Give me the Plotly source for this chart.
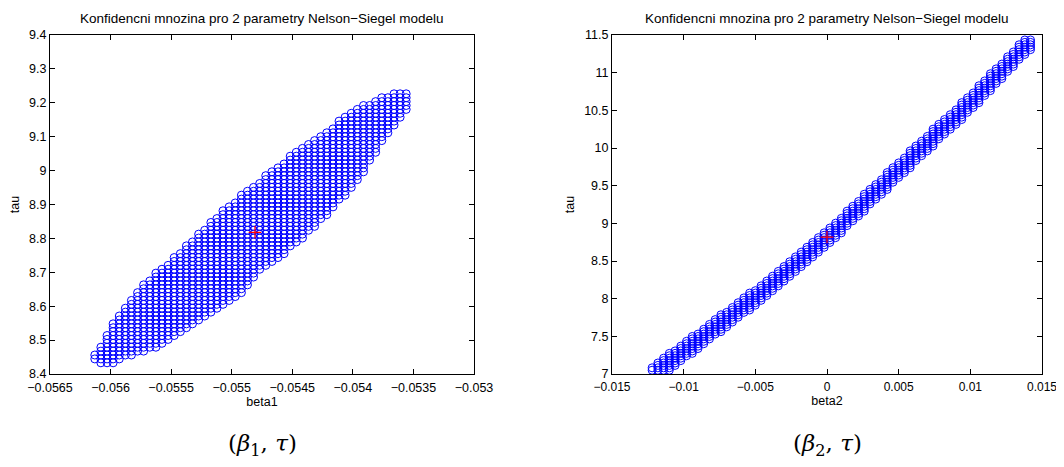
import plotly.graph_objects as go

# ---------------- left panel data (beta1, tau) ----------------
beta1_cols = [-0.056130, -0.056080, -0.056029, -0.055979, -0.055928, -0.055878, -0.055828,
              -0.055777, -0.055727, -0.055676, -0.055626, -0.055576, -0.055525, -0.055475,
              -0.055424, -0.055374, -0.055324, -0.055273, -0.055223, -0.055172, -0.055122,
              -0.055072, -0.055021, -0.054971, -0.054920, -0.054870, -0.054820, -0.054769,
              -0.054719, -0.054668, -0.054618, -0.054568, -0.054517, -0.054467, -0.054416,
              -0.054366, -0.054316, -0.054265, -0.054215, -0.054164, -0.054114, -0.054064,
              -0.054013, -0.053963, -0.053912, -0.053862, -0.053812, -0.053761, -0.053711,
              -0.053660, -0.053610, -0.053560]
tau1_lo = [8.444, 8.436, 8.433, 8.433, 8.442, 8.451, 8.456, 8.460, 8.467, 8.474, 8.482,
           8.493, 8.504, 8.516, 8.527, 8.538, 8.549, 8.560, 8.571, 8.583, 8.595, 8.606,
           8.617, 8.627, 8.644, 8.664, 8.684, 8.702, 8.715, 8.728, 8.742, 8.755, 8.771,
           8.787, 8.803, 8.819, 8.836, 8.854, 8.872, 8.890, 8.910, 8.931, 8.952, 8.976,
           9.000, 9.024, 9.053, 9.085, 9.112, 9.133, 9.154, 9.175]
tau1_hi = [8.453, 8.478, 8.519, 8.547, 8.574, 8.598, 8.622, 8.644, 8.662, 8.679, 8.694,
           8.709, 8.725, 8.742, 8.759, 8.777, 8.794, 8.812, 8.830, 8.848, 8.864, 8.879,
           8.894, 8.909, 8.924, 8.939, 8.954, 8.969, 8.985, 8.999, 9.012, 9.026, 9.039,
           9.051, 9.064, 9.076, 9.088, 9.100, 9.113, 9.128, 9.144, 9.157, 9.168, 9.179,
           9.189, 9.198, 9.207, 9.217, 9.222, 9.226, 9.229, 9.232]
tau1_grid = [8.433, 8.4445, 8.456, 8.4675, 8.479, 8.4905, 8.502, 8.5135, 8.525, 8.5365,
             8.548, 8.5595, 8.571, 8.5825, 8.594, 8.6055, 8.617, 8.6285, 8.640, 8.6515,
             8.663, 8.6745, 8.686, 8.6975, 8.709, 8.7205, 8.732, 8.7435, 8.755, 8.7665,
             8.778, 8.7895, 8.801, 8.8125, 8.824, 8.8355, 8.847, 8.8585, 8.870, 8.8815,
             8.893, 8.9045, 8.916, 8.9275, 8.939, 8.9505, 8.962, 8.9735, 8.985, 8.9965,
             9.008, 9.0195, 9.031, 9.0425, 9.054, 9.0655, 9.077, 9.0885, 9.100, 9.1115,
             9.123, 9.1345, 9.146, 9.1575, 9.169, 9.1805, 9.192, 9.2035, 9.215, 9.2265,
             9.238]
est1 = (-0.054808, 8.818)

# ---------------- right panel data (beta2, tau) ----------------
beta2_cols = [-0.0122, -0.0118, -0.0114, -0.0110, -0.0106, -0.0102, -0.0098, -0.0094,
              -0.0090, -0.0086, -0.0082, -0.0078, -0.0074, -0.0070, -0.0066, -0.0062,
              -0.0058, -0.0054, -0.0050, -0.0046, -0.0042, -0.0038, -0.0034, -0.0030,
              -0.0026, -0.0022, -0.0018, -0.0014, -0.0010, -0.0006, -0.0002, 0.0002,
              0.0006, 0.0010, 0.0014, 0.0018, 0.0022, 0.0026, 0.0030, 0.0034, 0.0038,
              0.0042, 0.0046, 0.0050, 0.0054, 0.0058, 0.0062, 0.0066, 0.0070, 0.0074,
              0.0078, 0.0082, 0.0086, 0.0090, 0.0094, 0.0098, 0.0102, 0.0106, 0.0110,
              0.0114, 0.0118, 0.0122, 0.0126, 0.0130, 0.0134, 0.0138, 0.0142]
tau2_mid = [6.990, 7.046, 7.103, 7.159, 7.215, 7.272, 7.329, 7.386, 7.444, 7.502, 7.559,
            7.617, 7.674, 7.732, 7.790, 7.847, 7.905, 7.962, 8.020, 8.082, 8.145, 8.207,
            8.270, 8.332, 8.394, 8.457, 8.519, 8.582, 8.644, 8.706, 8.769, 8.836, 8.909,
            8.982, 9.055, 9.128, 9.200, 9.273, 9.346, 9.419, 9.492, 9.564, 9.637, 9.710,
            9.781, 9.852, 9.924, 9.995, 10.066, 10.137, 10.208, 10.280, 10.351, 10.422,
            10.493, 10.564, 10.639, 10.717, 10.795, 10.873, 10.951, 11.029, 11.107, 11.186,
            11.264, 11.342, 11.420]
tau2_halfwidth = 0.115
tau2_grid_start, tau2_grid_step, tau2_grid_count = 7.05, 0.032, 138
est2 = (0.0, 8.818)

# ---------------- expand the parameter grids ----------------
x1, y1 = [], []
for b, lo, hi in zip(beta1_cols, tau1_lo, tau1_hi):
    for t in tau1_grid:
        if lo - 0.004 <= t <= hi + 0.004:
            x1.append(b); y1.append(t)

tau2_grid = [round(tau2_grid_start + k * tau2_grid_step, 4) for k in range(tau2_grid_count)]
x2, y2 = [], []
for b, m in zip(beta2_cols, tau2_mid):
    for t in tau2_grid:
        if m - tau2_halfwidth <= t <= m + tau2_halfwidth and t <= 11.46:
            x2.append(b); y2.append(t)

BLUE = "#0000FF"
fig = go.Figure()
mk = dict(symbol="circle-open", size=8, color=BLUE, line=dict(width=1, color=BLUE))
cross = dict(symbol="cross-thin-open", size=9, color="red", line=dict(width=1.2, color="red"))
fig.add_trace(go.Scatter(x=x1, y=y1, mode="markers", marker=mk, xaxis="x", yaxis="y",
                         showlegend=False, hoverinfo="skip"))
fig.add_trace(go.Scatter(x=[est1[0]], y=[est1[1]], mode="markers", xaxis="x", yaxis="y",
                         marker=cross, showlegend=False))
fig.add_trace(go.Scatter(x=x2, y=y2, mode="markers", marker=mk, xaxis="x2", yaxis="y2",
                         showlegend=False, hoverinfo="skip"))
fig.add_trace(go.Scatter(x=[est2[0]], y=[est2[1]], mode="markers", xaxis="x2", yaxis="y2",
                         marker=cross, showlegend=False))

# page has an 8 px body margin, so the figure is 16 px smaller and positions are offset by 8
OFF = 8
W, H = 1064 - 2 * OFF, 467 - 2 * OFF
def px_x(p): return (p - OFF) / W
def px_y(p): return 1 - (p - OFF) / H
def xd(a, b): return [px_x(a), px_x(b)]
ydom = [px_y(374), px_y(35)]

font = dict(family="Liberation Sans, Arial, sans-serif", size=12.5, color="black")
font_small = dict(family="Liberation Sans, Arial, sans-serif", size=12, color="black")
axcommon = dict(showline=True, linecolor="black", linewidth=1, mirror="ticks", ticks="inside",
                ticklen=5, tickcolor="black", showgrid=False, zeroline=False,
                automargin=False, ticklabeloverflow="allow")

x1ticks = [-0.0565, -0.056, -0.0555, -0.055, -0.0545, -0.054, -0.0535, -0.053]
x1text = ["\u22120.0565", "\u22120.056", "\u22120.0555", "\u22120.055", "\u22120.0545",
          "\u22120.054", "\u22120.0535", "\u22120.053"]
y1ticks = [8.4, 8.5, 8.6, 8.7, 8.8, 8.9, 9.0, 9.1, 9.2, 9.3, 9.4]
y1text = ["8.4", "8.5", "8.6", "8.7", "8.8", "8.9", "9", "9.1", "9.2", "9.3", "9.4"]
x2ticks = [-0.015, -0.01, -0.005, 0, 0.005, 0.01, 0.015]
x2text = ["\u22120.015", "\u22120.01", "\u22120.005", "0", "0.005", "0.01", "0.015"]
y2ticks = [7, 7.5, 8, 8.5, 9, 9.5, 10, 10.5, 11, 11.5]
y2text = ["7", "7.5", "8", "8.5", "9", "9.5", "10", "10.5", "11", "11.5"]

fig.update_layout(
    width=W, height=H, margin=dict(l=0, r=0, t=0, b=0, autoexpand=False),
    paper_bgcolor="white", plot_bgcolor="white", font=font,
    xaxis=dict(domain=xd(50, 474), range=[-0.0565, -0.053], tickvals=x1ticks, ticktext=x1text,
               anchor="y", ticklabelstandoff=2, tickfont=font,
               title=dict(text="beta1", font=font, standoff=1), **axcommon),
    yaxis=dict(domain=ydom, range=[8.4, 9.4], tickvals=y1ticks, ticktext=y1text, anchor="x",
               tickfont=font, title=dict(text="tau", font=font, standoff=6), **axcommon),
    xaxis2=dict(domain=xd(612, 1042), range=[-0.015, 0.015], tickvals=x2ticks, ticktext=x2text,
                anchor="y2", ticklabelstandoff=2, tickfont=font_small,
                title=dict(text="beta2", font=font, standoff=1), **axcommon),
    yaxis2=dict(domain=ydom, range=[7, 11.5], tickvals=y2ticks, ticktext=y2text, anchor="x2",
                tickfont=font, title=dict(text="tau", font=font, standoff=6), **axcommon),
)

title = "Konfidencni mnozina pro 2 parametry Nelson\u2212Siegel modelu"
tfont = dict(family="Liberation Sans, Arial, sans-serif", size=13.5, color="black")
for xc in [(50 + 474) / 2, (612 + 1042) / 2]:
    fig.add_annotation(text=title, x=px_x(xc), y=px_y(18), xref="paper", yref="paper",
                       showarrow=False, font=tfont, xanchor="center", yanchor="middle")

cap_font = dict(family="DejaVu Serif, Liberation Serif, serif", size=23, color="black")
fig.add_annotation(text="(<i>\u03b2</i><sub>1</sub>, <i>\u03c4</i>)", x=px_x(262), y=px_y(445),
                   xref="paper", yref="paper", showarrow=False, font=cap_font,
                   xanchor="center", yanchor="middle")
fig.add_annotation(text="(<i>\u03b2</i><sub>2</sub>, <i>\u03c4</i>)", x=px_x(827), y=px_y(445),
                   xref="paper", yref="paper", showarrow=False, font=cap_font,
                   xanchor="center", yanchor="middle")

fig.write_html("out.html")
